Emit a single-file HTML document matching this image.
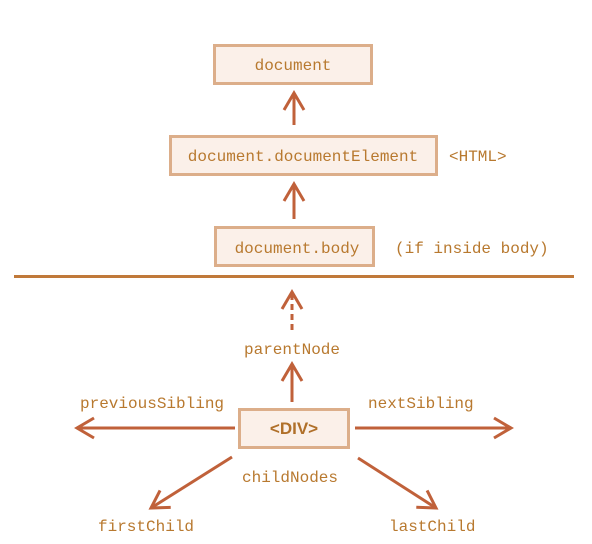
<!DOCTYPE html>
<html><head><style>body{margin:0;background:#fff}svg{display:block}</style></head><body>
<svg width="592" height="544" viewBox="0 0 592 544" xmlns="http://www.w3.org/2000/svg">
<defs>
<marker id="a" viewBox="0 0 24 24" refX="20" refY="12" markerWidth="24" markerHeight="24" markerUnits="userSpaceOnUse" orient="auto"><path d="M3,2 L20,12 L3,22" fill="none" stroke="#c0613a" stroke-width="3"/></marker>
</defs>
<g fill="#fbf0e9" stroke="#dcae8a" stroke-width="3">
<rect x="214.5" y="45.5" width="157" height="38"/>
<rect x="170.5" y="136.5" width="266" height="38"/>
<rect x="215.5" y="227.5" width="158" height="38"/>
<rect x="239.5" y="409.5" width="109" height="38"/>
</g>
<line x1="14" y1="276.5" x2="574" y2="276.5" stroke="#c0793a" stroke-width="3"/>
<g stroke="#c0613a" stroke-width="3" fill="none" marker-end="url(#a)">
<line x1="294" y1="125" x2="294" y2="93"/>
<line x1="294" y1="219" x2="294" y2="184"/>
<line x1="292" y1="330" x2="292" y2="292" stroke-dasharray="6,4"/>
<line x1="292" y1="402" x2="292" y2="364"/>
<line x1="235" y1="428" x2="77" y2="428"/>
<line x1="355" y1="428" x2="511" y2="428"/>
<line x1="232" y1="457" x2="151" y2="508"/>
<line x1="358" y1="458" x2="436" y2="508"/>
</g>
<g font-family="Liberation Mono, monospace" font-size="16" fill="#b8792f">
<text x="293" y="70" text-anchor="middle">document</text>
<text x="303" y="161" text-anchor="middle">document.documentElement</text>
<text x="449" y="161">&lt;HTML&gt;</text>
<text x="297" y="253" text-anchor="middle">document.body</text>
<text x="395" y="253">(if inside body)</text>
<text x="292" y="354" text-anchor="middle">parentNode</text>
<text x="80" y="408">previousSibling</text>
<text x="368" y="408">nextSibling</text>
<text x="290" y="482" text-anchor="middle">childNodes</text>
<text x="98" y="531">firstChild</text>
<text x="389" y="531">lastChild</text>
<text x="294" y="434" text-anchor="middle" font-family="Liberation Sans, sans-serif" font-weight="bold" font-size="17" fill="#b0702a">&lt;DIV&gt;</text>
</g>
</svg>
</body></html>
